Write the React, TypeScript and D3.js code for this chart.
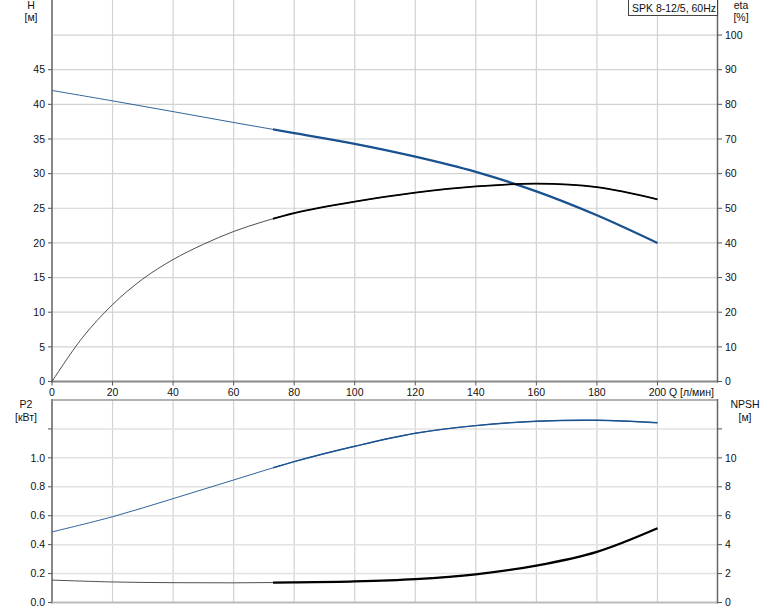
import React from "react";
import * as d3 from "d3";

const headQ = [0, 20, 40, 60, 80, 100, 120, 140, 160, 180, 200];
const headH = [42.0, 40.5, 38.95, 37.38, 35.85, 34.3, 32.45, 30.25, 27.45, 24.0, 20.0];

const etaQ = [0, 10, 20, 30, 40, 50, 60, 70, 80, 100, 120, 140, 160, 180, 200];
const etaV = [0, 12.6, 22.2, 29.6, 35.2, 39.6, 43.3, 46.2, 48.6, 51.9, 54.5, 56.3, 57.1, 56.1, 52.6];

const p2Q = [0, 20, 40, 60, 80, 100, 120, 140, 160, 180, 200];
const p2V = [0.488, 0.593, 0.718, 0.847, 0.974, 1.08, 1.17, 1.223, 1.253, 1.26, 1.243];

const npshQ = [0, 20, 40, 60, 80, 100, 120, 140, 160, 180, 200];
const npshV = [1.55, 1.42, 1.37, 1.36, 1.39, 1.46, 1.62, 1.95, 2.55, 3.5, 5.13];

const xTicks = [0, 20, 40, 60, 80, 100, 120, 140, 160, 180, 200];
const hTicks = [0, 5, 10, 15, 20, 25, 30, 35, 40, 45];
const etaTicks = [0, 10, 20, 30, 40, 50, 60, 70, 80, 90, 100];
const p2Ticks = [0, 0.2, 0.4, 0.6, 0.8, 1.0, 1.2];
const p2Labels = ["0.0", "0.2", "0.4", "0.6", "0.8", "1.0", ""];
const npshTicks = [0, 2, 4, 6, 8, 10, 12];
const npshLabels = ["0", "2", "4", "6", "8", "10", ""];
const hGrid = [5, 10, 15, 20, 25, 30, 35, 40, 45, 50];
const xGrid = [20, 40, 60, 80, 100, 120, 140, 160, 180, 200];
const p2Grid = [0.2, 0.4, 0.6, 0.8, 1.0, 1.2];

const legendText = "SPK 8-12/5, 60Hz";
const thickFrom = 73;

const FONT = "'Liberation Sans', Arial, sans-serif";
const BLUE = "#1a5290";

export default function App() {
  const L = 52, R = 718;
  const x = d3.scaleLinear().domain([0, 220]).range([L, R]);
  const yH = d3.scaleLinear().domain([0, 55]).range([381.5, 0.4]);
  const yEta = d3.scaleLinear().domain([0, 110]).range([381.5, 0.4]);
  const yP = d3.scaleLinear().domain([0, 1.4]).range([602.5, 400]);
  const yN = d3.scaleLinear().domain([0, 14]).range([602.5, 400]);

  const mk = (qs: number[], vs: number[], ys: d3.ScaleLinear<number, number>) =>
    d3
      .line<number>()
      .x((_, i) => x(qs[i]))
      .y((v) => ys(v))
      .curve(d3.curveCatmullRom.alpha(0.5))(vs) as string;

  const headPath = mk(headQ, headH, yH);
  const etaPath = mk(etaQ, etaV, yEta);
  const p2Path = mk(p2Q, p2V, yP);
  const npshPath = mk(npshQ, npshV, yN);
  const xt = x(thickFrom);

  const fs = 10.5;
  return (
    <svg
      width={774}
      height={611}
      style={{ position: "absolute", left: 0, top: 0, background: "#fff" }}
      fontFamily={FONT}
      fontSize={fs}
    >
      <defs>
        <clipPath id="thick">
          <rect x={xt} y={0} width={R - xt} height={611} />
        </clipPath>
      </defs>
      <rect width={774} height={611} fill="#fff" />
      {xGrid.map((q) => (
        <line key={"vg" + q} x1={x(q)} x2={x(q)} y1={0} y2={381.5} stroke="#d2d2d2" strokeWidth={1.2} />
      ))}
      {hGrid.map((h) => (
        <line key={"hg" + h} x1={L} x2={R} y1={yH(h)} y2={yH(h)} stroke="#d2d2d2" strokeWidth={1.2} />
      ))}
      {xGrid.map((q) => (
        <line key={"vgb" + q} x1={x(q)} x2={x(q)} y1={400} y2={602.5} stroke="#d2d2d2" strokeWidth={1.2} />
      ))}
      {p2Grid.map((p) => (
        <line key={"pg" + p} x1={L} x2={R} y1={yP(p)} y2={yP(p)} stroke="#e2e2e2" strokeWidth={1.5} />
      ))}

      <line x1={L} x2={L} y1={0} y2={382.5} stroke="#888" strokeWidth={2} />
      <line x1={L} x2={R} y1={381.5} y2={381.5} stroke="#888" strokeWidth={2} />
      <line x1={R - 0.5} x2={R - 0.5} y1={0} y2={382.5} stroke="#666" strokeWidth={1.5} />
      {hTicks.map((h) => (
        <g key={"ht" + h}>
          <line x1={48} x2={L} y1={yH(h)} y2={yH(h)} stroke="#555" />
          <text x={45} y={yH(h)} dy="0.35em" textAnchor="end" fill="#111">
            {h}
          </text>
        </g>
      ))}
      {etaTicks.map((e) => (
        <g key={"et" + e}>
          <line x1={R} x2={722} y1={yEta(e)} y2={yEta(e)} stroke="#555" />
          <text x={725} y={yEta(e)} dy="0.35em" textAnchor="start" fill="#111">
            {e}
          </text>
        </g>
      ))}
      {xTicks.map((q) => (
        <g key={"xt" + q}>
          <line x1={x(q)} x2={x(q)} y1={381.5} y2={385.5} stroke="#555" />
          <text x={x(q)} y={395.5} textAnchor="middle" fill="#111">
            {q}
          </text>
        </g>
      ))}
      <text x={669} y={395.5} fill="#111">Q [л/мин]</text>
      <text x={31} y={9} textAnchor="middle" fill="#111">H</text>
      <text x={31} y={21} textAnchor="middle" fill="#111">[м]</text>
      <text x={741} y={9} textAnchor="middle" fill="#111">eta</text>
      <text x={741} y={21} textAnchor="middle" fill="#111">[%]</text>

      <line x1={L} x2={R} y1={400} y2={400} stroke="#999" strokeWidth={1.5} />
      <line x1={L} x2={L} y1={399} y2={603.5} stroke="#888" strokeWidth={2} />
      <line x1={L} x2={R} y1={602.5} y2={602.5} stroke="#bbb" strokeWidth={2} />
      <line x1={R - 0.5} x2={R - 0.5} y1={399} y2={603.5} stroke="#666" strokeWidth={1.5} />
      {p2Ticks.map((p, i) => (
        <g key={"pt" + p}>
          <line x1={48} x2={L} y1={yP(p)} y2={yP(p)} stroke="#555" />
          <text x={45} y={yP(p)} dy="0.35em" textAnchor="end" fill="#111">
            {p2Labels[i]}
          </text>
        </g>
      ))}
      {npshTicks.map((n, i) => (
        <g key={"nt" + n}>
          <line x1={R} x2={722} y1={yN(n)} y2={yN(n)} stroke="#555" />
          <text x={725} y={yN(n)} dy="0.35em" textAnchor="start" fill="#111">
            {npshLabels[i]}
          </text>
        </g>
      ))}
      <text x={26} y={408} textAnchor="middle" fill="#111">P2</text>
      <text x={26} y={421} textAnchor="middle" fill="#111">[кВт]</text>
      <text x={745} y={408} textAnchor="middle" fill="#111">NPSH</text>
      <text x={745} y={421} textAnchor="middle" fill="#111">[м]</text>

      <path d={headPath} fill="none" stroke={BLUE} strokeWidth={0.9} />
      <path d={headPath} fill="none" stroke={BLUE} strokeWidth={2.3} clipPath="url(#thick)" />
      <path d={etaPath} fill="none" stroke="#222" strokeWidth={0.8} />
      <path d={etaPath} fill="none" stroke="#000" strokeWidth={1.8} clipPath="url(#thick)" />
      <path d={p2Path} fill="none" stroke={BLUE} strokeWidth={0.9} />
      <path d={p2Path} fill="none" stroke={BLUE} strokeWidth={1.4} clipPath="url(#thick)" />
      <path d={npshPath} fill="none" stroke="#222" strokeWidth={0.8} />
      <path d={npshPath} fill="none" stroke="#000" strokeWidth={2.2} clipPath="url(#thick)" />

      <rect x={628.5} y={-0.5} width={89} height={16} fill="#fff" stroke="#444" strokeWidth={1} />
      <text x={632} y={12} fill="#111">{legendText}</text>
    </svg>
  );
}
